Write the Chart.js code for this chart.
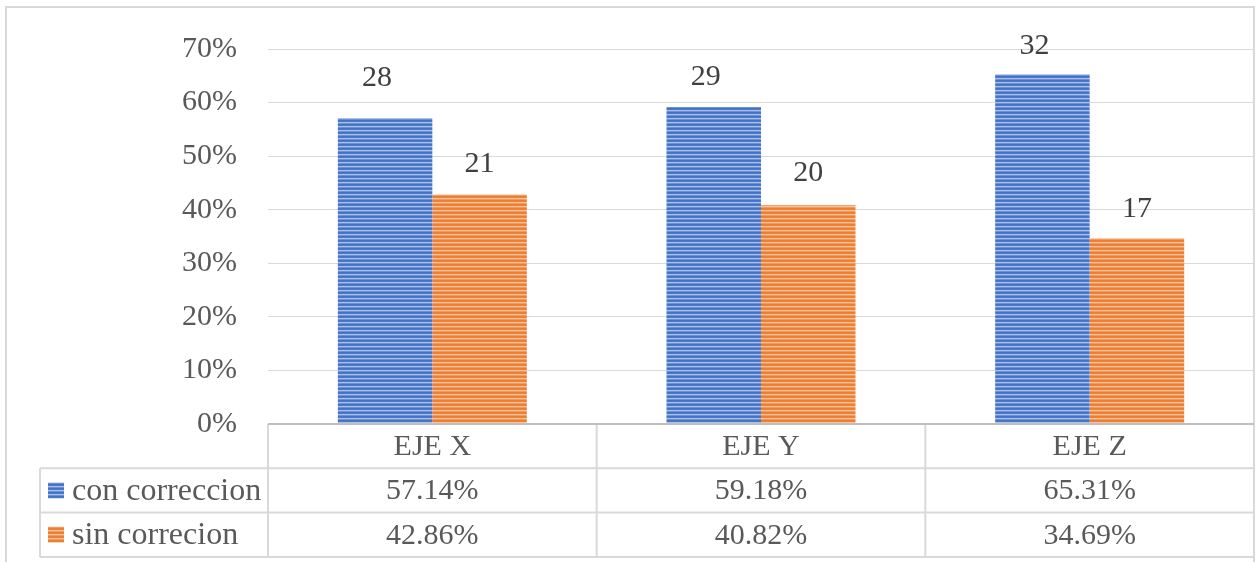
<!DOCTYPE html>
<html>
<head>
<meta charset="utf-8">
<title>Corrección por eje</title>
<script src="https://cdn.jsdelivr.net/npm/chart.js@4.4.0/dist/chart.umd.min.js"></script>
<style>
  html, body { margin: 0; padding: 0; background: #fff; overflow: hidden; }
  #wrap { width: 1257px; height: 562px; position: relative; }
</style>
</head>
<body>
<div id="wrap"><canvas id="chart" width="1257" height="562"></canvas></div>
<script>
const categories = ['EJE X', 'EJE Y', 'EJE Z'];
const seriesNames = ['con correccion', 'sin correcion'];
const conCount = [28, 29, 32];
const sinCount = [21, 20, 17];
const yTicks = [0, 10, 20, 30, 40, 50, 60, 70];

// share of each group, in percent
const conPct = conCount.map((c, i) => c / (c + sinCount[i]) * 100);
const sinPct = sinCount.map((c, i) => c / (conCount[i] + c) * 100);

const FONT = "'Liberation Serif', 'Times New Roman', serif";
const TEXT = '#595959';
const LINE = '#d9d9d9';

// horizontal stripe fill like the Office "narrow horizontal" pattern
function stripes(rows) {
  const c = document.createElement('canvas');
  c.width = 4; c.height = rows.length;
  const g = c.getContext('2d');
  rows.forEach((col, i) => { g.fillStyle = col; g.fillRect(0, i, 4, 1); });
  return g.createPattern(c, 'repeat');
}
const ctx = document.getElementById('chart').getContext('2d');
const bluePat = stripes(['#4472c4', '#4a77c6', '#a9c0ea', '#6d90d3']);
const orangePat = stripes(['#ed7d31', '#ee8138', '#f8c29d', '#f19a5e']);

// label nudges per series: [dx, dy per bar]
const labelShift = [
  { dx: -8, dy: [-40, -30, -28] },
  { dx: 0, dy: [-30, -32, -29] }
];

const tablePlugin = {
  id: 'dataTable',
  beforeDraw(chart) {
    const g = chart.ctx;
    g.save();
    g.strokeStyle = LINE;
    g.lineWidth = 2;
    g.strokeRect(6, 7, 1248, 620);
    g.restore();
  },
  afterDatasetsDraw(chart) {
    const g = chart.ctx;
    g.save();
    g.font = '30px ' + FONT;
    g.fillStyle = '#404040';
    g.textAlign = 'center';
    g.textBaseline = 'middle';
    const counts = [conCount, sinCount];
    chart.data.datasets.forEach((ds, d) => {
      const s = labelShift[d];
      chart.getDatasetMeta(d).data.forEach((bar, i) => {
        g.fillText(String(counts[d][i]), bar.x + s.dx, bar.y + s.dy[i]);
      });
    });
    g.restore();
  },
  afterDraw(chart) {
    const g = chart.ctx;
    const area = chart.chartArea;
    const x = chart.scales.x;
    const rowH = 44.3;
    const top = area.bottom;
    const rows = [top, top + rowH, top + 2 * rowH, top + 3 * rowH];
    const tableLeft = 40;
    const half = (x.getPixelForValue(1) - x.getPixelForValue(0)) / 2;

    g.save();
    g.strokeStyle = LINE;
    g.lineWidth = 2;
    g.beginPath();
    for (let r = 1; r < rows.length; r++) {
      g.moveTo(tableLeft, rows[r]);
      g.lineTo(area.right, rows[r]);
    }
    g.moveTo(tableLeft, rows[1]);
    g.lineTo(tableLeft, rows[3]);
    g.moveTo(area.left, rows[0]);
    g.lineTo(area.left, rows[3]);
    for (let i = 0; i < categories.length - 1; i++) {
      const cx = x.getPixelForValue(i) + half;
      g.moveTo(cx, rows[0]);
      g.lineTo(cx, rows[3]);
    }
    g.stroke();

    // category axis line
    g.strokeStyle = '#bfbfbf';
    g.beginPath();
    g.moveTo(area.left, rows[0]);
    g.lineTo(area.right, rows[0]);
    g.stroke();

    g.font = '30px ' + FONT;
    g.fillStyle = TEXT;
    g.textBaseline = 'middle';
    g.textAlign = 'center';
    categories.forEach((c, i) => {
      g.fillText(c, x.getPixelForValue(i), (rows[0] + rows[1]) / 2 + 1);
    });
    [conPct, sinPct].forEach((vals, r) => {
      const cy = (rows[r + 1] + rows[r + 2]) / 2 + 1;
      vals.forEach((v, i) => {
        g.fillText(v.toFixed(2) + '%', x.getPixelForValue(i), cy);
      });
    });

    // legend keys in the row headers
    g.textAlign = 'left';
    g.font = '32px ' + FONT;
    [bluePat, orangePat].forEach((pat, r) => {
      const cy = (rows[r + 1] + rows[r + 2]) / 2;
      g.fillStyle = pat;
      g.fillRect(48, cy - 8, 16, 16);
      g.fillStyle = TEXT;
      g.fillText(seriesNames[r], 72, cy + 1);
    });
    g.restore();
  }
};

new Chart(ctx, {
  type: 'bar',
  data: {
    labels: categories,
    datasets: [
      { label: seriesNames[0], data: conPct, backgroundColor: bluePat },
      { label: seriesNames[1], data: sinPct, backgroundColor: orangePat }
    ]
  },
  options: {
    responsive: false,
    animation: false,
    devicePixelRatio: 1,
    layout: { padding: { top: 49, right: 3, left: 0, bottom: 0 } },
    datasets: { bar: { categoryPercentage: 0.575, barPercentage: 1 } },
    plugins: { legend: { display: false }, tooltip: { enabled: false } },
    scales: {
      x: {
        ticks: { display: false },
        grid: { display: false },
        border: { display: false },
        afterFit(scale) { scale.height = 138; }
      },
      y: {
        min: 0,
        max: 70,
        afterBuildTicks(scale) { scale.ticks = yTicks.map(v => ({ value: v })); },
        ticks: {
          padding: 31,
          color: TEXT,
          font: { family: FONT, size: 30 },
          callback: v => v + '%'
        },
        grid: { color: LINE, lineWidth: 1, drawTicks: false },
        border: { display: false },
        afterFit(scale) { scale.width = 268; }
      }
    }
  },
  plugins: [tablePlugin]
});
</script>
</body>
</html>
